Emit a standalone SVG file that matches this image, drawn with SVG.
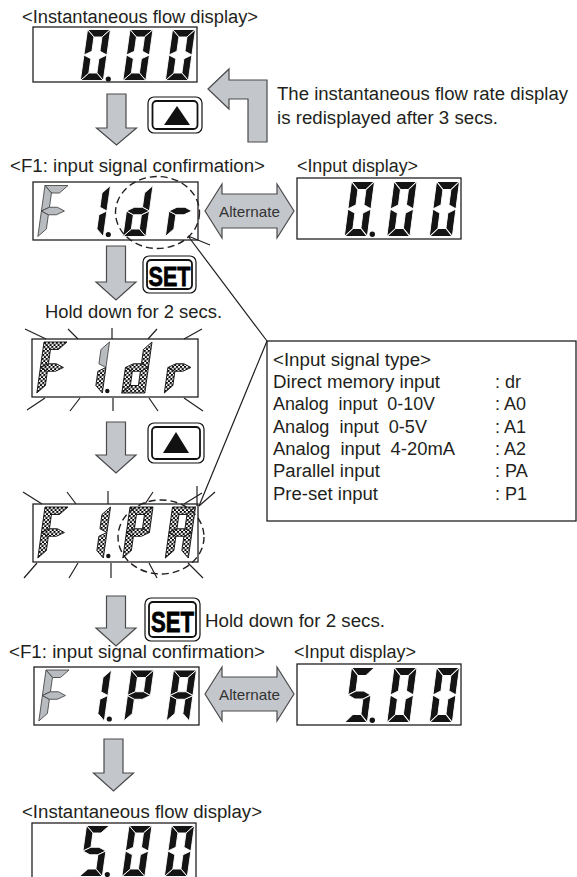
<svg xmlns="http://www.w3.org/2000/svg" width="577" height="877" viewBox="0 0 577 877">
<defs>
<style>
text{font-family:"Liberation Sans",Arial,sans-serif;fill:#231f20}
.t{font-size:18px}
.alt{font-size:15px;fill:#333}
.set{font-size:28px;font-weight:bold;fill:#000;stroke:#000;stroke-width:0.8}
.box{fill:none;stroke:#231f20;stroke-width:1.3}
.arr{fill:#c3c6cb;stroke:#4a4a4a;stroke-width:1.2}
.ln{stroke:#231f20;stroke-width:1.2;fill:none}
.dash{fill:none;stroke:#231f20;stroke-width:1.4;stroke-dasharray:7 4}
.on{fill:#141414;stroke:#fff;stroke-width:0.9}
.gr{fill:#b8bbbf;stroke:#3c3c3c;stroke-width:0.8}
.fl{fill:url(#chk);stroke:#111;stroke-width:0.9}
.btn{fill:#fff;stroke:#111;stroke-width:1.2}
.btni{fill:none;stroke:#111;stroke-width:1.8}
.dp{fill:#141414}
</style>
<pattern id="chk" width="4" height="4" patternUnits="userSpaceOnUse">
<rect width="4" height="4" fill="#fff"/>
<rect width="2" height="2" fill="#000"/>
<rect x="2" y="2" width="2" height="2" fill="#000"/>
</pattern>
<polygon id="sa" points="0,0 23,0 15.5,7.5 7.5,7.5"/>
<polygon id="sb" points="23,0 23,25.5 15.5,21.75 15.5,7.5"/>
<polygon id="sc" points="23,25.5 23,51 15.5,43.5 15.5,29.25"/>
<polygon id="sd" points="0,51 23,51 15.5,43.5 7.5,43.5"/>
<polygon id="se" points="0,25.5 7.5,29.25 7.5,43.5 0,51"/>
<polygon id="sf" points="0,0 7.5,7.5 7.5,21.75 0,25.5"/>
<polygon id="sg" points="0,25.5 7.5,21.75 15.5,21.75 23,25.5 15.5,29.25 7.5,29.25"/>
<g id="g0"><use href="#sa"/><use href="#sb"/><use href="#sc"/><use href="#sd"/><use href="#se"/><use href="#sf"/></g>
<g id="g1"><use href="#sb"/><use href="#sc"/></g>
<g id="gd"><use href="#sb"/><use href="#sc"/><use href="#sd"/><use href="#se"/><use href="#sg"/></g>
<g id="gr"><use href="#se"/><use href="#sg"/></g>
<g id="gF"><use href="#sa"/><use href="#se"/><use href="#sf"/><use href="#sg"/></g>
<g id="g5"><use href="#sa"/><use href="#sf"/><use href="#sg"/><use href="#sc"/><use href="#sd"/></g>
<g id="gP"><use href="#sa"/><use href="#sb"/><use href="#se"/><use href="#sf"/><use href="#sg"/></g>
<g id="gA"><use href="#sa"/><use href="#sb"/><use href="#sc"/><use href="#se"/><use href="#sf"/><use href="#sg"/></g>
</defs>

<!-- Labels -->
<g id="labels">
<text class="t" x="22" y="23" textLength="236" lengthAdjust="spacingAndGlyphs">&lt;Instantaneous flow display&gt;</text>
<text class="t" x="277" y="100" textLength="291" lengthAdjust="spacingAndGlyphs">The instantaneous flow rate display</text>
<text class="t" x="277" y="124" textLength="221" lengthAdjust="spacingAndGlyphs">is redisplayed after 3 secs.</text>
<text class="t" x="10" y="172" textLength="255" lengthAdjust="spacingAndGlyphs">&lt;F1: input signal confirmation&gt;</text>
<text class="t" x="297" y="172" textLength="121" lengthAdjust="spacingAndGlyphs">&lt;Input display&gt;</text>
<text class="t" x="45" y="318" textLength="177" lengthAdjust="spacingAndGlyphs">Hold down for 2 secs.</text>
<text class="t" x="205" y="627" textLength="180" lengthAdjust="spacingAndGlyphs">Hold down for 2 secs.</text>
<text class="t" x="9" y="658" textLength="256" lengthAdjust="spacingAndGlyphs">&lt;F1: input signal confirmation&gt;</text>
<text class="t" x="294" y="658" textLength="122" lengthAdjust="spacingAndGlyphs">&lt;Input display&gt;</text>
<text class="t" x="22" y="818" textLength="240" lengthAdjust="spacingAndGlyphs">&lt;Instantaneous flow display&gt;</text>
</g>

<!-- Display 1: 0.00 -->
<g id="disp1">
<rect class="box" x="33" y="27" width="164" height="55"/>
<use href="#g0" class="on" transform="translate(87.5,29.5) skewX(-8)"/>
<use href="#g0" class="on" transform="translate(130,29.5) skewX(-8)"/>
<use href="#g0" class="on" transform="translate(172.5,29.5) skewX(-8)"/>
<circle class="dp" cx="108.3" cy="79" r="2.6"/>
</g>

<!-- Display 2: F1.dr -->
<g id="disp2">
<rect class="box" x="33" y="182" width="165" height="58"/>
<use href="#gF" class="gr" transform="translate(45,185.5) skewX(-8)"/>
<use href="#g1" class="on" transform="translate(87.5,185.5) skewX(-8)"/>
<use href="#gd" class="on" transform="translate(130,185.5) skewX(-8)"/>
<use href="#gr" class="on" transform="translate(172.5,185.5) skewX(-8)"/>
<circle class="dp" cx="108.3" cy="234.5" r="2.6"/>
</g>

<!-- Input display 1 -->
<g id="inputdisp1">
<rect class="box" x="297" y="178" width="164" height="61"/>
<use href="#g0" class="on" transform="translate(351.5,181.5) scale(1,1.08) skewX(-8)"/>
<use href="#g0" class="on" transform="translate(394,181.5) scale(1,1.08) skewX(-8)"/>
<use href="#g0" class="on" transform="translate(436.5,181.5) scale(1,1.08) skewX(-8)"/>
<circle class="dp" cx="372.3" cy="234.3" r="2.7"/>
</g>

<!-- Display 3: flashing F1.dr -->
<g id="disp3">
<rect class="box" x="32" y="339" width="166" height="58"/>
<use href="#gF" class="fl" transform="translate(44,342) skewX(-8)"/>
<use href="#sb" class="gr" transform="translate(86.5,342) skewX(-8)"/>
<use href="#sc" class="fl" transform="translate(86.5,342) skewX(-8)"/>
<use href="#gd" class="fl" transform="translate(129,342) skewX(-8)"/>
<use href="#gr" class="fl" transform="translate(171.5,342) skewX(-8)"/>
<circle class="dp" cx="107.3" cy="391" r="2.2"/>
<path class="ln" d="M25,329 L46,339 M68,329 L78,339 M112,328 L112,339 M157,329 L148,339 M202,329 L184,339"/>
<path class="ln" d="M45,398 L27,410 M80,398 L70,411 M113,398 L113,411 M149,398 L158,411 M184,398 L203,411"/>
</g>

<!-- Display 4: flashing F1.PA -->
<g id="disp4">
<rect class="box" x="33" y="504" width="165" height="58"/>
<use href="#gF" class="fl" transform="translate(45,507) skewX(-8)"/>
<use href="#g1" class="fl" transform="translate(87.5,507) skewX(-8)"/>
<use href="#gP" class="fl" transform="translate(130,507) skewX(-8)"/>
<use href="#gA" class="fl" transform="translate(172.5,507) skewX(-8)"/>
<circle class="dp" cx="108.3" cy="556" r="2.2"/>
<path class="ln" d="M23,492 L42,504 M67,492 L76,504 M108,491 L108,504 M153,492 L145,504 M184,504 L202,493 M197,486 L197,506 M215,492 L199,506"/>
<path class="ln" d="M37,563 L24,578 M78,563 L69,578 M111,563 L111,578 M149,563 L157,578 M188,563 L203,578"/>
</g>

<!-- Display 5: F1.PA -->
<g id="disp5">
<rect class="box" x="34" y="667" width="165" height="58"/>
<use href="#gF" class="gr" transform="translate(46,670) skewX(-8)"/>
<use href="#g1" class="on" transform="translate(88.5,670) skewX(-8)"/>
<use href="#gP" class="on" transform="translate(131,670) skewX(-8)"/>
<use href="#gA" class="on" transform="translate(173.5,670) skewX(-8)"/>
<circle class="dp" cx="109.3" cy="719" r="2.6"/>
</g>

<!-- Input display 2 -->
<g id="inputdisp2">
<rect class="box" x="297" y="664" width="164" height="61"/>
<use href="#g5" class="on" transform="translate(351.5,667.5) scale(1,1.08) skewX(-8)"/>
<use href="#g0" class="on" transform="translate(394,667.5) scale(1,1.08) skewX(-8)"/>
<use href="#g0" class="on" transform="translate(436.5,667.5) scale(1,1.08) skewX(-8)"/>
<circle class="dp" cx="372.3" cy="720.3" r="2.7"/>
</g>

<!-- Display 6: 5.00 -->
<g id="disp6">
<rect class="box" x="32" y="823" width="164" height="70"/>
<use href="#g5" class="on" transform="translate(86.5,825.5) skewX(-8)"/>
<use href="#g0" class="on" transform="translate(129,825.5) skewX(-8)"/>
<use href="#g0" class="on" transform="translate(171.5,825.5) skewX(-8)"/>
<circle class="dp" cx="107.3" cy="874.5" r="2.6"/>
</g>

<!-- Buttons -->
<g id="btnUp1">
<rect class="btn" x="148" y="97" width="54" height="36" rx="6"/>
<rect class="btni" x="152.5" y="101" width="45" height="28" rx="4"/>
<polygon points="164,125 190,125 177,106" fill="#111"/>
</g>
<g id="btnSet1">
<rect class="btn" x="143" y="256" width="53" height="37" rx="6"/>
<rect class="btni" x="147" y="260" width="45" height="29" rx="4"/>
<text class="set" x="169.5" y="285.5" text-anchor="middle" textLength="42" lengthAdjust="spacingAndGlyphs">SET</text>
</g>
<g id="btnUp2">
<rect class="btn" x="148" y="423" width="56" height="40" rx="6"/>
<rect class="btni" x="152" y="427" width="48" height="32" rx="4"/>
<polygon points="163,453 189,453 176,432" fill="#111"/>
</g>
<g id="btnSet2">
<rect class="btn" x="145" y="598" width="55" height="43" rx="6"/>
<rect class="btni" x="149" y="602" width="47" height="35" rx="4"/>
<text class="set" x="172.5" y="632" text-anchor="middle" textLength="43" lengthAdjust="spacingAndGlyphs" style="font-size:29px">SET</text>
</g>

<!-- Input signal type box -->
<g id="signalbox">
<rect class="box" x="267" y="341" width="309" height="180"/>
<text class="t" x="273" y="366" textLength="158" lengthAdjust="spacingAndGlyphs">&lt;Input signal type&gt;</text>
<text class="t" x="273" y="388" textLength="167" lengthAdjust="spacingAndGlyphs">Direct memory input</text>
<text class="t" x="273" y="410" textLength="162" lengthAdjust="spacingAndGlyphs" style="white-space:pre">Analog  input  0-10V</text>
<text class="t" x="273" y="433" textLength="154" lengthAdjust="spacingAndGlyphs" style="white-space:pre">Analog  input  0-5V</text>
<text class="t" x="273" y="455" textLength="182" lengthAdjust="spacingAndGlyphs" style="white-space:pre">Analog  input  4-20mA</text>
<text class="t" x="273" y="477" textLength="107" lengthAdjust="spacingAndGlyphs">Parallel input</text>
<text class="t" x="273" y="500" textLength="105" lengthAdjust="spacingAndGlyphs">Pre-set input</text>
<text class="t" x="495" y="388">: dr</text>
<text class="t" x="495" y="410">: A0</text>
<text class="t" x="495" y="433">: A1</text>
<text class="t" x="495" y="455">: A2</text>
<text class="t" x="495" y="477">: PA</text>
<text class="t" x="495" y="500">: P1</text>
</g>

<!-- Connectors -->
<g id="connectors">
<path class="arr" d="M107,94 H126 V128 H136.5 L116.5,145 L96.5,128 H107 Z"/>
<path class="arr" d="M208,89 L229,69 V80 H267 V142 H248 V99 H229 V109 Z"/>
<path class="arr" d="M106.5,246 H125.5 V282 H136 L116,300 L96,282 H106.5 Z"/>
<path class="arr" d="M106.5,422 H125.5 V455 H136 L116,473 L96,455 H106.5 Z"/>
<path class="arr" d="M106.5,596 H125.5 V628 H136 L116,646 L96,628 H106.5 Z"/>
<path class="arr" d="M104,739 H123 V773 H133.5 L113.5,791 L93.5,773 H104 Z"/>
<path class="arr" d="M205,211 L222,184 V194 H277 V184 L294,211 L277,238 V228 H222 V238 Z"/>
<path class="arr" d="M205,694 L222,667 V677 H277 V667 L294,694 L277,721 V711 H222 V721 Z"/>
<ellipse class="dash" cx="157.5" cy="212.5" rx="42" ry="36"/>
<ellipse class="dash" cx="161" cy="537" rx="43" ry="37"/>
<path class="ln" d="M188,236 L267,341 M188,236 L210,245 M199,506 L267,341"/>
</g>
<g id="altlabels">
<text class="alt" x="249.5" y="216.5" text-anchor="middle" textLength="61" lengthAdjust="spacingAndGlyphs">Alternate</text>
<text class="alt" x="249.5" y="699.5" text-anchor="middle" textLength="61" lengthAdjust="spacingAndGlyphs">Alternate</text>
</g>
</svg>
